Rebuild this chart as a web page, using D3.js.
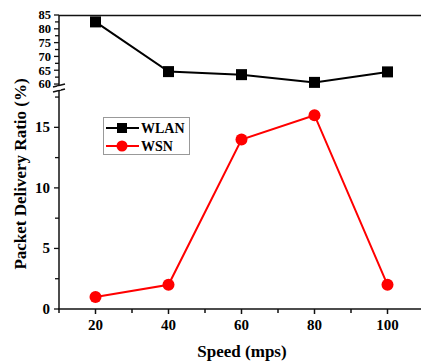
<!DOCTYPE html>
<html>
<head>
<meta charset="utf-8">
<script src="https://cdn.jsdelivr.net/npm/d3@7"></script>
<style>
body { margin:0; background:#fff; }
text { font-family: "Liberation Serif", "Times New Roman", serif; font-weight: bold; }
</style>
</head>
<body>
<svg id="chart" width="421" height="364"></svg>
<script>
var speeds = [20, 40, 60, 80, 100]
var wlan = [82.5, 64.5, 63.4, 60.6, 64.4]
var wsn = [1, 2, 14, 16, 2]
var xTicks = [20, 40, 60, 80, 100]
var upperTicks = [60, 65, 70, 75, 80, 85]
var lowerTicks = [0, 5, 10, 15]

var svg = d3.select("#chart")

var x = d3.scaleLinear().domain([10, 110]).range([59, 424])
var yUp = d3.scaleLinear().domain([59, 85]).range([86.8, 15])
var yLo = d3.scaleLinear().domain([0, 18]).range([309, 91])

// frame
svg.append("line").attr("x1", 59).attr("x2", 421).attr("y1", 15.5).attr("y2", 15.5)
  .attr("stroke", "#111").attr("stroke-width", 1.5)

// x axis
var xAxis = svg.append("g").attr("transform", "translate(0,309)")
xAxis.append("line").attr("x1", 58).attr("x2", 421).attr("stroke", "#111").attr("stroke-width", 1.5)
d3.range(10, 111, 10).forEach(function(v) {
  var major = xTicks.indexOf(v) >= 0
  xAxis.append("line").attr("x1", x(v)).attr("x2", x(v)).attr("y1", 0).attr("y2", major ? 5 : 4)
    .attr("stroke", "#111").attr("stroke-width", 1.5)
})
xAxis.selectAll("text.tl").data(xTicks).enter().append("text")
  .attr("x", function(d){ return x(d) }).attr("y", 21)
  .attr("text-anchor", "middle").attr("font-size", 15).text(function(d){ return d })

// y axis upper
var ax = svg.append("g")
ax.append("line").attr("x1", 59).attr("x2", 59).attr("y1", 15).attr("y2", 85).attr("stroke", "#111").attr("stroke-width", 1.5)
ax.append("line").attr("x1", 59).attr("x2", 59).attr("y1", 91).attr("y2", 309).attr("stroke", "#111").attr("stroke-width", 1.5)
d3.range(60, 85.1, 2.5).forEach(function(v) {
  ax.append("line").attr("x1", 59).attr("x2", v % 5 == 0 ? 54 : 55).attr("y1", yUp(v)).attr("y2", yUp(v))
    .attr("stroke", "#111").attr("stroke-width", 1.3)
})
d3.range(0, 18, 2.5).forEach(function(v) {
  ax.append("line").attr("x1", 59).attr("x2", v % 5 == 0 ? 54 : 55).attr("y1", yLo(v)).attr("y2", yLo(v))
    .attr("stroke", "#111").attr("stroke-width", 1.3)
})
// upper labels are packed tight, so a smaller size keeps them apart
ax.selectAll("text.up").data(upperTicks).enter().append("text")
  .attr("x", 51).attr("y", function(d){ return yUp(d) + 4.3 })
  .attr("text-anchor", "end").attr("font-size", 12.5).text(function(d){ return d })
ax.selectAll("text.lo").data(lowerTicks).enter().append("text")
  .attr("x", 50).attr("y", function(d){ return yLo(d) + 5 })
  .attr("text-anchor", "end").attr("font-size", 15).text(function(d){ return d })

// break marks
ax.append("line").attr("x1", 53).attr("x2", 65).attr("y1", 87).attr("y2", 84).attr("stroke", "#111").attr("stroke-width", 1.5)
ax.append("line").attr("x1", 53).attr("x2", 65).attr("y1", 92).attr("y2", 89).attr("stroke", "#111").attr("stroke-width", 1.5)
ax.append("rect").attr("x", 57).attr("y", 86.6).attr("width", 4).attr("height", 3).attr("fill", "#fff")

// series
var lineUp = d3.line().x(function(d, i){ return x(speeds[i]) }).y(function(d){ return yUp(d) })
var lineLo = d3.line().x(function(d, i){ return x(speeds[i]) }).y(function(d){ return yLo(d) })

svg.append("path").attr("d", lineUp(wlan)).attr("fill", "none").attr("stroke", "#000").attr("stroke-width", 2)
svg.selectAll("rect.wlan").data(wlan).enter().append("rect")
  .attr("x", function(d, i){ return x(speeds[i]) - 5.5 }).attr("y", function(d){ return yUp(d) - 5.5 })
  .attr("width", 11).attr("height", 11).attr("fill", "#000")

svg.append("path").attr("d", lineLo(wsn)).attr("fill", "none").attr("stroke", "#f00").attr("stroke-width", 2)
svg.selectAll("circle.wsn").data(wsn).enter().append("circle")
  .attr("cx", function(d, i){ return x(speeds[i]) }).attr("cy", function(d){ return yLo(d) })
  .attr("r", 6).attr("fill", "#f00")

// legend
var lg = svg.append("g")
lg.append("rect").attr("x", 103.5).attr("y", 117.5).attr("width", 86).attr("height", 37)
  .attr("fill", "#fff").attr("stroke", "#999").attr("stroke-width", 1)
lg.append("line").attr("x1", 106).attr("x2", 139).attr("y1", 128).attr("y2", 128).attr("stroke", "#000").attr("stroke-width", 2)
lg.append("rect").attr("x", 117).attr("y", 123).attr("width", 10).attr("height", 10).attr("fill", "#000")
lg.append("text").attr("x", 141).attr("y", 133).attr("font-size", 14).text("WLAN")
lg.append("line").attr("x1", 106).attr("x2", 139).attr("y1", 146).attr("y2", 146).attr("stroke", "#f00").attr("stroke-width", 2)
lg.append("circle").attr("cx", 122).attr("cy", 146).attr("r", 5.5).attr("fill", "#f00")
lg.append("text").attr("x", 141).attr("y", 151).attr("font-size", 14).text("WSN")

// titles
svg.append("text").attr("x", 242).attr("y", 357).attr("text-anchor", "middle").attr("font-size", 17).text("Speed (mps)")
svg.append("text").attr("transform", "translate(26,174) rotate(-90)").attr("text-anchor", "middle")
  .attr("font-size", 17).text("Packet Delivery Ratio (%)")
</script>
</body>
</html>
